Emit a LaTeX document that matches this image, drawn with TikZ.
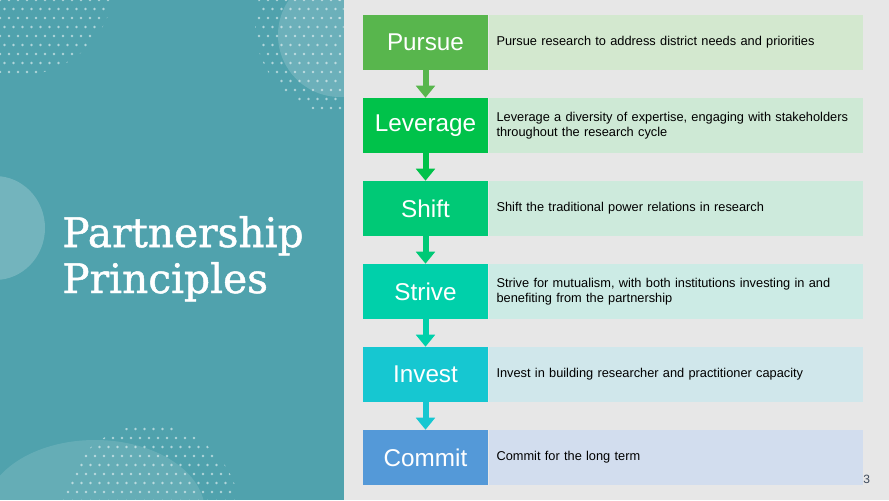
\documentclass[tikz,border=0pt]{standalone}
\usepackage{fontspec}
\setmainfont{Liberation Sans}
\newfontfamily\titlefont[FakeBold=1.2]{DejaVu Serif}
\usepackage{tikz}
\usetikzlibrary{arrows.meta,positioning}

\definecolor{panel}{HTML}{50A2AD}
\definecolor{backgr}{HTML}{E7E7E7}
\definecolor{cpursue}{HTML}{58B64D}
\definecolor{cleverage}{HTML}{00C24A}
\definecolor{cshift}{HTML}{00C976}
\definecolor{cstrive}{HTML}{00D0AA}
\definecolor{cinvest}{HTML}{16C7D1}
\definecolor{ccommit}{HTML}{5499D8}
\definecolor{lpursue}{HTML}{D3E8CF}
\definecolor{lleverage}{HTML}{CEE9D5}
\definecolor{lshift}{HTML}{CDEADC}
\definecolor{lstrive}{HTML}{CCEBE5}
\definecolor{linvest}{HTML}{D0E7EB}
\definecolor{lcommit}{HTML}{D2DDEE}
\definecolor{pagenum}{HTML}{3E4A5C}

\begin{document}
\begin{tikzpicture}[
            x=0.75pt, y=-0.75pt,
            principle/.style={rectangle, minimum width=93.75pt, minimum height=41.25pt,
              inner sep=0pt, text=white, font=\fontsize{18.2}{20}\selectfont},
            desc/.style={rectangle, minimum width=280.5pt, minimum height=41.25pt,
              inner xsep=6pt, inner ysep=0pt, text width=268.5pt, align=left,
              font=\fontsize{9.6}{10.8}\selectfont},
            link/.style={line width=4.5pt, -{Triangle[width=14pt,length=9pt]}},
            dot/.style={fill=white, opacity=0.55}
          ]

          \useasboundingbox (0,0) rectangle (889,500);

          % Background
          \fill[backgr] (0,0) rectangle (889,500);
          \fill[panel] (0,0) rectangle (344,500);

          % Faint dots on the grey side
          \begin{scope}
            \clip (520,5) ellipse (185 and 100);
            \foreach \i in {0,...,45} {
              \foreach \j in {0,...,12} {
                \fill[white, opacity=0.35] ({330+\i*9+mod(\j,2)*4.5},{\j*9}) circle (1.1);
              }
            }
          \end{scope}

          % Blobs on the panel
          \fill[white, opacity=0.16] (340,35) circle (62);
          \fill[white, opacity=0.2] (-5,228) ellipse (50 and 52);
          \fill[white, opacity=0.12] (95,512) ellipse (110 and 72);
          \fill[backgr] (344,0) rectangle (889,500);

          % Dot patches on the panel
          \begin{scope}
            \clip (20,-20) circle (95);
            \foreach \i in {0,...,14} {
              \foreach \j in {0,...,10} {
                \fill[dot] ({\i*9+mod(\j,2)*4.5},{\j*9}) circle (1.3);
              }
            }
          \end{scope}
          \begin{scope}
            \clip (345,25) circle (90);
            \clip (0,0) rectangle (343,500);
            \foreach \i in {0,...,11} {
              \foreach \j in {0,...,14} {
                \fill[dot] ({250+\i*9+mod(\j,2)*4.5},{\j*9}) circle (1.3);
              }
            }
          \end{scope}
          \begin{scope}
            \clip (150,515) circle (90);
            \foreach \i in {0,...,22} {
              \foreach \j in {0,...,10} {
                \fill[dot] ({50+\i*9+mod(\j,2)*4.5},{420+\j*9}) circle (1.3);
              }
            }
          \end{scope}

          % Title
          \node[anchor=base west, inner sep=0pt, text=white, align=left,
            font=\titlefont\fontsize{30.5}{34.5}\selectfont] (title) at (62,293)
            {Partnership\\Principles};

          % Principles
          \node[principle, fill=cpursue] (pursue) at (425.5,42.5) {Pursue};
          \node[principle, fill=cleverage, below=20.6pt of pursue] (leverage) {Leverage};
          \node[principle, fill=cshift, below=20.6pt of leverage] (shift) {Shift};
          \node[principle, fill=cstrive, below=20.6pt of shift] (strive) {Strive};
          \node[principle, fill=cinvest, below=20.6pt of strive] (invest) {Invest};
          \node[principle, fill=ccommit, below=20.6pt of invest] (commit) {Commit};

          % Descriptions
          \node[desc, fill=lpursue, right=0pt of pursue] (dpursue)
            {Pursue research to address district needs and priorities};
          \node[desc, fill=lleverage, right=0pt of leverage] (dleverage)
            {Leverage a diversity of expertise, engaging with stakeholders\\throughout the research cycle};
          \node[desc, fill=lshift, right=0pt of shift] (dshift)
            {Shift the traditional power relations in research};
          \node[desc, fill=lstrive, right=0pt of strive] (dstrive)
            {Strive for mutualism, with both institutions investing in and\\benefiting from the partnership};
          \node[desc, fill=linvest, right=0pt of invest] (dinvest)
            {Invest in building researcher and practitioner capacity};
          \node[desc, fill=lcommit, right=0pt of commit] (dcommit)
            {Commit for the long term};

          % Arrows
          \draw[link, cpursue] (pursue) -- (leverage);
          \draw[link, cleverage] (leverage) -- (shift);
          \draw[link, cshift] (shift) -- (strive);
          \draw[link, cstrive] (strive) -- (invest);
          \draw[link, cinvest] (invest) -- (commit);

          % Page number
          \node[anchor=base west, inner sep=0pt, text=pagenum,
            font=\fontsize{9}{9}\selectfont] (page) at (863,483) {3};

        \end{tikzpicture}
\end{document}
